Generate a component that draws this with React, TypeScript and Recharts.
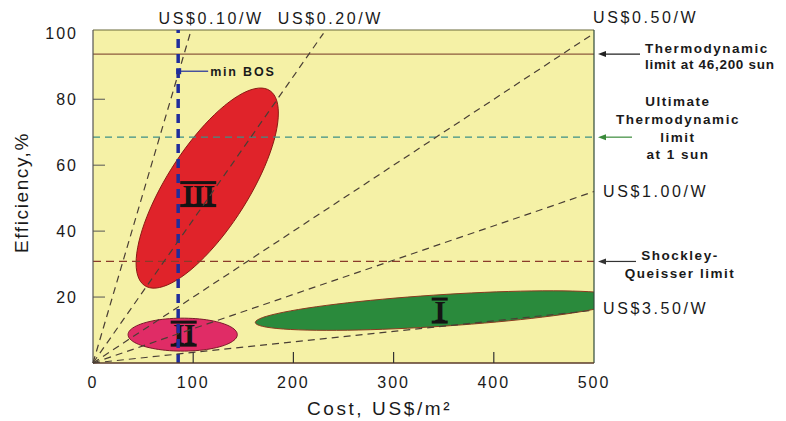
import React from "react"
import {
  ComposedChart,
  XAxis,
  YAxis,
  Scatter,
  CartesianGrid,
  ReferenceLine,
  ReferenceArea,
  ReferenceDot,
} from "recharts"

const xTicks = [0, 100, 200, 300, 400, 500]
const yTicks = [20, 40, 60, 80, 100]
const costMax = 500

// dashed US$/W lines from the origin, end point
const priceLabels = ["US$0.10/W", "US$0.20/W", "US$0.50/W", "US$1.00/W", "US$3.50/W"]
const priceEndCost = [97, 230, 500, 500, 500]
const priceEndEff = [100, 100, 100, 52, 16]

// horizontal efficiency limits
const limitLines = [
  ["Thermodynamic", "limit at 46,200 sun"],
  ["Ultimate", "Thermodynamic", "limit", "at 1 sun"],
  ["Shockley-", "Queisser limit"],
]
const limitEff = [93.7, 68.5, 30.8]

// technology generations (ellipses): bounding box + tilt
const regionNames = ["III", "II", "I"]
const regionCostMin = [43, 35, 162]
const regionCostMax = [185, 144, 530]
const regionEffMin = [22.7, 3.6, 9.9]
const regionEffMax = [83.4, 13.6, 21.9]
const regionTilt = [0.75, 0, 0.6]

const minBosCost = 85
const minBosEff = 88.5

const SANS = "'Liberation Sans', Arial, sans-serif"

const PRICE_STYLE = [
  { dx: 21, dy: -15, anchor: "middle" },
  { dx: 7, dy: -15, anchor: "middle" },
  { dx: -1, dy: -16, anchor: "start" },
  { dx: 9, dy: 0, anchor: "start" },
  { dx: 9, dy: -2, anchor: "start" },
]

const REGION_STYLE = [
  { fill: "#e0232a", stroke: "#8a1a14", dx: -9, dy: 6 },
  { fill: "#e02c66", stroke: "#7a1a2a", dx: 1, dy: -1 },
  { fill: "#2a8a3c", stroke: "#8a3a20", dx: 0, dy: 0 },
]

const LIMIT_STYLE = [
  { line: "#8b5a3c", dash: undefined, arrow: "#222", arrowLen: 42, textX: 51, anchor: "start", dys: [-6, 10], ls: [1.5, 0.7] },
  { line: "#3c9086", dash: "7 5", arrow: "#3a8a3a", arrowLen: 34, textX: 84, anchor: "middle", dys: [-36, -18, 0, 17], ls: [1.5, 1.5, 1.5, 1.5] },
  { line: "#8a3b2a", dash: "8 5", arrow: "#333", arrowLen: 38, textX: 86, anchor: "middle", dys: [-6, 12], ls: [1.5, 1.5] },
]

function RomanMark({ cx, cy, text }: any) {
  const w = text.length * 10 + 6
  return (
    <g>
      <text
        x={cx}
        y={cy}
        textAnchor="middle"
        dominantBaseline="central"
        fontFamily="'Liberation Serif', serif"
        fontWeight="bold"
        fontSize={30}
        fill="#141414"
        letterSpacing={-1}
      >
        {text}
      </text>
      <rect x={cx - w / 2} y={cy - 13} width={w} height={3} fill="#141414" />
      <rect x={cx - w / 2} y={cy + 10} width={w} height={3} fill="#141414" />
    </g>
  )
}

const ellipseShape = (i: number) => (props: any) => {
  const { x, y, width, height } = props
  const left = Math.min(x, x + width)
  const top = Math.min(y, y + height)
  const W = Math.abs(width) / 2
  const H = Math.abs(height) / 2
  const cx = left + W
  const cy = top + H
  const k = regionTilt[i]
  const s = Math.sqrt(1 - k * k)
  const pts: string[] = []
  for (let j = 0; j <= 90; j++) {
    const t = (j / 90) * Math.PI * 2
    pts.push(`${cx + W * Math.cos(t)},${cy - H * (k * Math.cos(t) + s * Math.sin(t))}`)
  }
  // clip at the right edge of the plot (cost = 500)
  const pxPerCost = Math.abs(width) / (regionCostMax[i] - regionCostMin[i])
  const clipRight = left + (costMax - regionCostMin[i]) * pxPerCost
  const st = REGION_STYLE[i]
  const id = `region-clip-${i}`
  return (
    <g>
      <defs>
        <clipPath id={id}>
          <rect x={left - 5} y={top - 5} width={clipRight - left + 5} height={2 * H + 10} />
        </clipPath>
      </defs>
      <path d={"M" + pts.join("L") + "Z"} fill={st.fill} stroke={st.stroke} strokeWidth={1} clipPath={`url(#${id})`} />
      <RomanMark cx={cx + st.dx} cy={cy + st.dy} text={regionNames[i]} />
    </g>
  )
}

const XTick = ({ x, y, payload }: any) => {
  const axisY = y - 14
  return (
    <g>
      {payload.value > 0 && payload.value < 500 && (
        <line x1={x} x2={x} y1={axisY} y2={axisY - 11} stroke="#333" strokeWidth={1.2} />
      )}
      <text x={x} y={y} dy="0.71em" textAnchor="middle" fontFamily={SANS} fontSize={16} letterSpacing={2} fill="#1a1a1a">
        {payload.value}
      </text>
    </g>
  )
}

const YTick = ({ x, y, payload }: any) => {
  const axisX = x + 15
  return (
    <g>
      {payload.value < 100 && (
        <line x1={axisX} x2={axisX + 12} y1={y} y2={y} stroke="#555" strokeWidth={1} />
      )}
      <text x={x} y={y} dy="0.35em" textAnchor="end" fontFamily={SANS} fontSize={16} letterSpacing={2} fill="#1a1a1a">
        {payload.value}
      </text>
    </g>
  )
}

const priceLabel = (i: number) => (p: any) => {
  const vb = p.viewBox
  const st = PRICE_STYLE[i]
  return (
    <text
      x={vb.x + st.dx}
      y={vb.y + st.dy}
      dy="0.35em"
      textAnchor={st.anchor}
      fontFamily={SANS}
      fontSize={16}
      letterSpacing={2.6}
      fill="#1a1a1a"
    >
      {priceLabels[i]}
    </text>
  )
}

const limitLabel = (i: number) => (p: any) => {
  const vb = p.viewBox
  const right = vb.x + vb.width
  const y = vb.y
  const st = LIMIT_STYLE[i]
  const a0 = right + 4
  return (
    <g>
      <line x1={a0 + 6} x2={a0 + st.arrowLen} y1={y} y2={y} stroke={st.arrow} strokeWidth={1.2} />
      <polygon points={`${a0},${y} ${a0 + 8},${y - 3} ${a0 + 8},${y + 3}`} fill={st.arrow} />
      {limitLines[i].map((t, j) => (
        <text
          key={j}
          x={right + st.textX}
          y={y + st.dys[j]}
          dy="0.35em"
          textAnchor={st.anchor}
          fontFamily={SANS}
          fontWeight="bold"
          fontSize={13.5}
          letterSpacing={st.ls[j]}
          fill="#1a1a1a"
        >
          {t}
        </text>
      ))}
    </g>
  )
}

const minBosLabel = (p: any) => {
  const vb = p.viewBox
  const x = vb.x + vb.width / 2
  const y = vb.y + vb.height / 2
  return (
    <g>
      <rect x={x - 2} y={y - 3} width={5} height={6} fill="#1f2d9c" />
      <line x1={x + 2} x2={x + 30} y1={y} y2={y} stroke="#1f2d9c" strokeWidth={1.2} />
      <text x={x + 32} y={y} dy="0.35em" fontFamily={SANS} fontWeight="bold" fontSize={12.5} letterSpacing={1.8} fill="#1a1a1a">
        min BOS
      </text>
    </g>
  )
}

const costTitle = (p: any) => {
  const vb = p.viewBox
  return (
    <text
      x={vb.x + vb.width / 2 + 36}
      y={vb.y + vb.height + 15}
      textAnchor="middle"
      dy="0.35em"
      fontFamily={SANS}
      fontSize={19}
      letterSpacing={2.6}
      fill="#1a1a1a"
    >
      Cost, US$/m²
    </text>
  )
}

const effTitle = (p: any) => {
  const vb = p.viewBox
  const x = vb.x - 12
  const y = vb.y + vb.height / 2 - 4
  return (
    <text
      x={x}
      y={y}
      transform={`rotate(-90 ${x} ${y})`}
      textAnchor="middle"
      dy="0.35em"
      fontFamily={SANS}
      fontSize={19}
      letterSpacing={1.6}
      fill="#1a1a1a"
    >
      Efficiency,%
    </text>
  )
}

export default function App() {
  return (
    <div style={{ position: "absolute", left: 0, top: 0, background: "#fff" }}>
      <ComposedChart width={786} height={421} margin={{ top: 30, right: 192, bottom: 28, left: 33 }}>
        <CartesianGrid horizontal={false} vertical={false} fill="#f5f1a6" />
        <XAxis
          type="number"
          dataKey="cost"
          domain={[0, 500]}
          ticks={xTicks}
          height={30}
          tickSize={0}
          tickMargin={14}
          tick={<XTick />}
          axisLine={{ stroke: "#5a3a2a", strokeWidth: 1.5 }}
          label={costTitle}
        />
        <YAxis
          type="number"
          dataKey="eff"
          domain={[0, 101]}
          ticks={yTicks}
          width={60}
          tickSize={0}
          tickMargin={15}
          tick={<YTick />}
          axisLine={{ stroke: "#555", strokeWidth: 1.2 }}
          label={effTitle}
        />

        {regionNames.map((n, i) => (
          <ReferenceArea
            key={n}
            x1={regionCostMin[i]}
            x2={regionCostMax[i]}
            y1={regionEffMin[i]}
            y2={regionEffMax[i]}
            ifOverflow="visible"
            shape={ellipseShape(i)}
          />
        ))}

        {priceLabels.map((n, i) => (
          <Scatter
            key={n}
            name={n}
            data={[
              { cost: 0, eff: 0 },
              { cost: priceEndCost[i], eff: priceEndEff[i] },
            ]}
            line={{ stroke: "#4a3f35", strokeWidth: 1.2, strokeDasharray: "7 5" }}
            shape={() => <g />}
            isAnimationActive={false}
          />
        ))}

        {limitEff.map((v, i) => (
          <ReferenceLine
            key={i}
            y={v}
            stroke={LIMIT_STYLE[i].line}
            strokeWidth={1.3}
            strokeDasharray={LIMIT_STYLE[i].dash}
            label={limitLabel(i)}
          />
        ))}

        <ReferenceLine y={101} stroke="#6b6a3a" strokeWidth={1.2} />
        <ReferenceLine x={500} stroke="#2f4a3a" strokeWidth={1.2} />

        <ReferenceLine x={minBosCost} stroke="#1f2d9c" strokeWidth={3.5} strokeDasharray="9 6" />
        <ReferenceDot x={minBosCost} y={minBosEff} r={0} ifOverflow="visible" label={minBosLabel} />

        {priceLabels.map((n, i) => (
          <ReferenceDot
            key={n}
            x={priceEndCost[i]}
            y={priceEndEff[i]}
            r={0}
            ifOverflow="visible"
            label={priceLabel(i)}
          />
        ))}
      </ComposedChart>
    </div>
  )
}
